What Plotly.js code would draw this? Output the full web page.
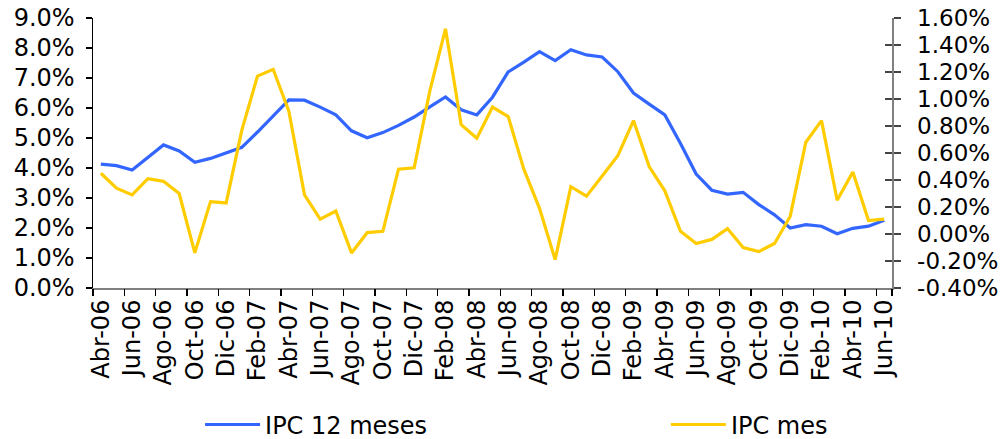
<!DOCTYPE html>
<html>
<head>
<meta charset="utf-8">
<script src="https://cdn.plot.ly/plotly-3.0.1.min.js"></script>
<style>
html,body{margin:0;padding:0;background:#fff;}
#chart{width:1007px;height:439px;}
</style>
</head>
<body>
<div id="chart"></div>
<script>
var months = [
 "Abr-06","May-06","Jun-06","Jul-06","Ago-06","Sep-06","Oct-06","Nov-06","Dic-06",
 "Ene-07","Feb-07","Mar-07","Abr-07","May-07","Jun-07","Jul-07","Ago-07","Sep-07","Oct-07","Nov-07","Dic-07",
 "Ene-08","Feb-08","Mar-08","Abr-08","May-08","Jun-08","Jul-08","Ago-08","Sep-08","Oct-08","Nov-08","Dic-08",
 "Ene-09","Feb-09","Mar-09","Abr-09","May-09","Jun-09","Jul-09","Ago-09","Sep-09","Oct-09","Nov-09","Dic-09",
 "Ene-10","Feb-10","Mar-10","Abr-10","May-10","Jun-10"
];
var ipc12 = [
 4.13,4.08,3.93,4.35,4.77,4.57,4.19,4.32,4.50,
 4.69,5.20,5.72,6.27,6.26,6.03,5.77,5.24,5.01,5.18,5.42,5.70,
 6.04,6.37,5.94,5.77,6.36,7.20,7.53,7.88,7.58,7.94,7.77,7.70,
 7.21,6.50,6.13,5.77,4.82,3.80,3.26,3.13,3.19,2.78,2.44,2.00,
 2.11,2.06,1.81,1.99,2.06,2.26
];
var ipcMes = [
 0.45,0.34,0.29,0.41,0.39,0.30,-0.14,0.24,0.23,
 0.77,1.17,1.22,0.91,0.29,0.11,0.17,-0.14,0.01,0.02,0.48,0.49,
 1.06,1.52,0.81,0.71,0.94,0.87,0.48,0.19,-0.19,0.35,0.28,0.43,
 0.58,0.84,0.50,0.32,0.02,-0.07,-0.04,0.04,-0.10,-0.13,-0.07,0.13,
 0.68,0.84,0.25,0.46,0.10,0.11
];
var leftTickVals = [0,1,2,3,4,5,6,7,8,9];
var leftTickText = ["0.0%","1.0%","2.0%","3.0%","4.0%","5.0%","6.0%","7.0%","8.0%","9.0%"];
var rightTickVals = [-0.4,-0.2,0,0.2,0.4,0.6,0.8,1.0,1.2,1.4,1.6];
var rightTickText = ["-0.40%","-0.20%","0.00%","0.20%","0.40%","0.60%","0.80%","1.00%","1.20%","1.40%","1.60%"];
var tickLabels = months.filter(function(m,i){return i%2===0;});
var boundaryTicks = months.map(function(m,i){return i-0.5;}).filter(function(v,i){return i%2===0;});
boundaryTicks.push(months.length-0.5);

var font = {family:"DejaVu Sans", size:24, color:"#000"};
var rfont = {family:"DejaVu Sans", size:23, color:"#000"};

var traces = [
 {x:months, y:ipc12, type:"scatter", mode:"lines", name:"IPC 12 meses",
  line:{color:"#3366FF", width:3.2}, xaxis:"x", yaxis:"y", legend:"legend"},
 {x:months, y:ipcMes, type:"scatter", mode:"lines", name:"IPC mes",
  line:{color:"#FFCC00", width:3.2}, xaxis:"x", yaxis:"y2", legend:"legend2"},
 {x:[0], y:[null], type:"scatter", mode:"lines", showlegend:false, hoverinfo:"skip",
  xaxis:"x3", yaxis:"y"},
 {x:[months[0]], y:[null], type:"scatter", mode:"lines", showlegend:false, hoverinfo:"skip",
  xaxis:"x", yaxis:"y3"}
];

var layout = {
 width:1007, height:439,
 margin:{l:93, r:115, t:18, b:151, pad:0, autoexpand:false},
 paper_bgcolor:"#fff", plot_bgcolor:"#fff",
 font:font,
 showlegend:true,
 legend:{orientation:"h", x:0.134, xanchor:"left", y:-0.507, yanchor:"middle",
  font:font, bgcolor:"rgba(0,0,0,0)", itemwidth:55},
 legend2:{orientation:"h", x:0.717, xanchor:"left", y:-0.507, yanchor:"middle",
  font:font, bgcolor:"rgba(0,0,0,0)", itemwidth:55},
 xaxis:{type:"category", range:[-0.5, months.length-0.5], tickmode:"array",
  tickvals:tickLabels, ticktext:tickLabels, tickangle:-90, ticks:"",
  showline:true, linecolor:"#808080", linewidth:2, showgrid:false, zeroline:false,
  tickfont:font, automargin:false},
 xaxis3:{type:"linear", overlaying:"x", anchor:"y", range:[-0.5, months.length-0.5],
  tickmode:"array", tickvals:boundaryTicks, ticks:"outside", ticklen:7, tickwidth:1.5,
  tickcolor:"#000", showticklabels:false, showline:false, showgrid:false, zeroline:false},
 yaxis:{range:[0,9], tickmode:"array", tickvals:leftTickVals, ticktext:leftTickText,
  ticks:"outside", ticklen:6, tickwidth:1.5, tickcolor:"#000", showline:true, linecolor:"#000",
  linewidth:1.5, showgrid:false, zeroline:false, tickfont:font, automargin:false,
  ticklabelstandoff:6},
 yaxis2:{range:[-0.4,1.6], tickmode:"array", tickvals:rightTickVals, ticktext:rightTickText,
  overlaying:"y", side:"right", ticks:"outside", ticklen:7, tickwidth:1.5, tickcolor:"#444",
  showline:true, linecolor:"#808080", linewidth:1.5, showgrid:false, zeroline:false,
  tickfont:rfont, automargin:false, ticklabelstandoff:12},
 yaxis3:{range:[-0.4,1.6], tickmode:"array", tickvals:rightTickVals,
  overlaying:"y", side:"right", ticks:"inside", ticklen:7, tickwidth:1.5, tickcolor:"#444",
  showline:false, showgrid:false, zeroline:false, showticklabels:false}
};

Plotly.newPlot("chart", traces, layout, {displayModeBar:false, staticPlot:true});
</script>
</body>
</html>
